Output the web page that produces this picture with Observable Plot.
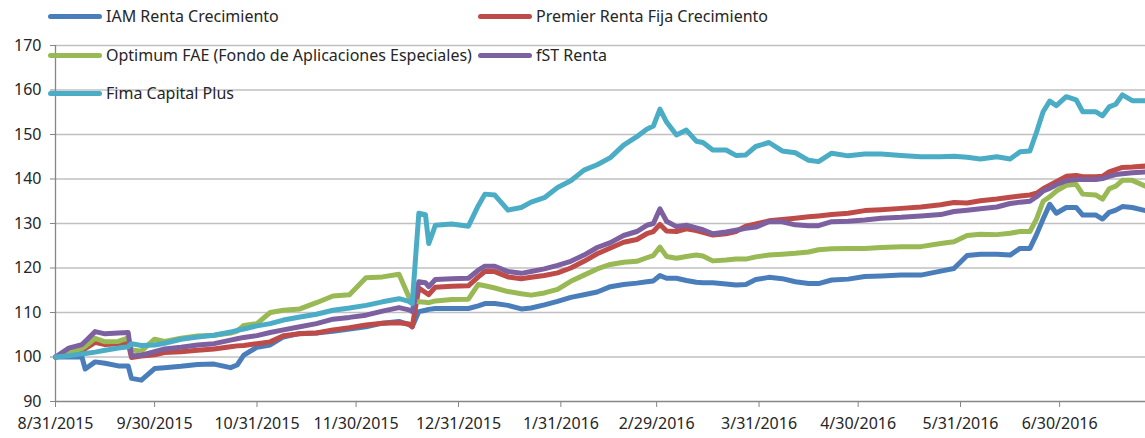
<!DOCTYPE html>
<html><head><meta charset="utf-8">
<script src="https://cdn.jsdelivr.net/npm/d3@7"></script>
<script src="https://cdn.jsdelivr.net/npm/@observablehq/plot@0.6"></script>
<style>
html,body{margin:0;padding:0;background:#fff;}
#wrap{position:relative;width:1145px;height:438px;font-family:"Noto Sans",sans-serif;}
.leg{position:absolute;display:flex;align-items:center;font-size:16px;color:#262626;white-space:nowrap;height:20px;}
.sw{width:54px;height:5px;border-radius:3px;margin-right:4px;flex:none;}
</style></head><body>
<div id="wrap"><div id="chart"></div></div>
<script>
// ---- data ----
const dates = [
"2015-08-31","2015-09-04","2015-09-08","2015-09-09","2015-09-12","2015-09-15","2015-09-19","2015-09-22","2015-09-23","2015-09-26",
"2015-09-30","2015-10-03","2015-10-08","2015-10-13","2015-10-18","2015-10-23","2015-10-25","2015-10-27","2015-10-31","2015-11-04",
"2015-11-08","2015-11-13","2015-11-18","2015-11-23","2015-11-28","2015-12-03","2015-12-08","2015-12-13","2015-12-16","2015-12-17",
"2015-12-19","2015-12-21","2015-12-22","2015-12-24","2015-12-29","2016-01-03","2016-01-06","2016-01-08","2016-01-11","2016-01-15",
"2016-01-19","2016-01-22","2016-01-26","2016-01-30","2016-02-03","2016-02-07","2016-02-11","2016-02-15","2016-02-19","2016-02-23",
"2016-02-26","2016-02-28","2016-03-01","2016-03-03","2016-03-06","2016-03-09","2016-03-12","2016-03-14","2016-03-17","2016-03-21",
"2016-03-24","2016-03-27","2016-03-30","2016-04-03","2016-04-07","2016-04-11","2016-04-15","2016-04-18","2016-04-22","2016-04-27",
"2016-05-02","2016-05-07","2016-05-13","2016-05-19","2016-05-25","2016-05-29","2016-06-02","2016-06-06","2016-06-11","2016-06-15",
"2016-06-18","2016-06-21","2016-06-23","2016-06-25","2016-06-27","2016-06-29","2016-07-02","2016-07-05","2016-07-07","2016-07-11",
"2016-07-13","2016-07-15","2016-07-17","2016-07-19","2016-07-22","2016-07-26"];

const iamRentaCrecimiento = [
100,100,100,97.3,98.9,98.6,98.0,98.0,95.2,94.8,
97.4,97.6,97.9,98.3,98.4,97.6,98.2,100.4,102.2,102.7,
104.5,105.3,105.4,105.8,106.3,106.8,107.6,108.0,107.3,106.8,
110.2,110.5,110.7,110.9,110.9,110.9,111.5,112.0,112.0,111.6,
110.8,111.0,111.7,112.5,113.4,114.0,114.6,115.8,116.3,116.6,
116.9,117.1,118.3,117.7,117.7,117.2,116.8,116.7,116.7,116.4,
116.2,116.3,117.4,117.9,117.6,116.9,116.5,116.5,117.3,117.5,
118.1,118.2,118.4,118.4,119.3,119.9,122.8,123.1,123.1,122.9,
124.4,124.4,127.5,131.0,134.3,132.3,133.6,133.6,131.9,131.9,
131.0,132.5,133.0,133.8,133.6,132.9];

const premierRentaFija = [
100,100.6,101.5,101.9,103.3,102.8,103.0,103.1,99.9,100.2,
100.5,101.0,101.2,101.5,101.8,102.3,102.5,102.6,103.0,103.4,
104.8,105.2,105.4,106.1,106.6,107.2,107.6,107.7,107.4,106.8,
115.5,114.5,114.0,115.7,115.9,116.0,118.0,119.2,119.2,118.0,
117.6,117.9,118.3,118.9,120.0,121.5,123.2,124.5,125.8,126.4,
127.7,128.2,129.8,128.3,128.2,128.8,128.4,128.0,127.4,127.7,
128.2,129.4,129.9,130.6,130.9,131.2,131.5,131.7,132.0,132.3,
132.9,133.1,133.4,133.7,134.2,134.7,134.6,135.1,135.5,135.9,
136.2,136.4,136.8,137.8,138.6,139.4,140.6,140.8,140.5,140.5,
140.6,141.6,142.1,142.6,142.7,142.9];

const optimumFAE = [
100,101.0,101.9,102.4,104.2,103.4,103.5,104.3,101.6,101.3,
104.0,103.5,104.2,104.7,104.9,105.4,105.8,107.1,107.5,110.0,
110.5,110.8,112.2,113.7,114.0,117.8,118.0,118.6,113.5,112.8,
112.4,112.3,112.2,112.6,112.9,113.0,116.3,116.0,115.5,114.7,
114.2,113.9,114.4,115.2,117.0,118.4,119.8,120.8,121.3,121.5,
122.3,122.8,124.7,122.6,122.2,122.6,122.9,122.7,121.6,121.8,
122.0,122.0,122.5,122.9,123.1,123.3,123.6,124.1,124.3,124.4,
124.4,124.6,124.8,124.8,125.5,125.9,127.3,127.6,127.5,127.8,
128.2,128.2,131.0,135.0,136.0,137.3,138.6,138.8,136.6,136.4,
135.5,137.8,138.4,139.7,139.7,138.4];

const fstRenta = [
100,102.0,102.8,103.5,105.7,105.2,105.4,105.5,100.2,100.4,
101.2,101.8,102.2,102.7,103.0,103.8,104.1,104.4,104.8,105.5,
106.1,106.8,107.5,108.5,108.9,109.4,110.3,111.1,110.6,110.2,
116.9,116.7,115.8,117.4,117.6,117.7,119.5,120.4,120.4,119.2,
118.8,119.2,119.8,120.6,121.5,122.9,124.6,125.7,127.3,128.2,
129.6,130.0,133.3,130.5,129.3,129.6,129.0,128.6,127.7,128.1,
128.5,128.9,129.2,130.4,130.4,129.7,129.5,129.5,130.4,130.5,
130.8,131.2,131.4,131.7,132.0,132.7,133.0,133.3,133.7,134.5,
134.8,135.0,136.0,137.3,137.9,138.7,139.6,139.9,139.9,139.9,
140.1,140.6,141.0,141.2,141.4,141.6];

const fimaCapitalPlus = [
100,100.3,100.7,100.8,101.1,101.5,102.0,102.3,103.0,102.6,
102.7,103.1,104.0,104.5,104.9,105.6,106.0,106.3,107.0,107.5,
108.3,109.0,109.6,110.5,111.0,111.6,112.4,113.1,112.5,112.0,
132.3,132.0,125.5,129.6,129.9,129.4,134.0,136.6,136.4,133.0,
133.6,134.8,135.8,138.1,139.6,142.0,143.2,144.8,147.6,149.5,
151.2,151.9,155.7,152.8,149.9,151.0,148.5,148.2,146.5,146.5,
145.3,145.4,147.3,148.2,146.3,145.9,144.2,143.9,145.8,145.2,
145.6,145.6,145.3,145.0,145.0,145.1,144.9,144.5,145.0,144.5,
146.1,146.3,150.5,155.1,157.5,156.5,158.5,157.8,155.1,155.1,
154.2,156.2,156.8,158.9,157.6,157.6];

const seriesNames = ["IAM Renta Crecimiento","Premier Renta Fija Crecimiento","Optimum FAE (Fondo de Aplicaciones Especiales)","fST Renta","Fima Capital Plus"];
const seriesValues = [iamRentaCrecimiento, premierRentaFija, optimumFAE, fstRenta, fimaCapitalPlus];
const seriesColors = ["#4a7ebb","#be4b48","#98b954","#7d60a0","#4bacc6"];
const xTickDates = ["2015-08-31","2015-09-30","2015-10-31","2015-11-30","2015-12-31","2016-01-31","2016-02-29","2016-03-31","2016-04-30","2016-05-31","2016-06-30"];
const yTicks = [90,100,110,120,130,140,150,160,170];

// ---- chart ----
const parse = s => new Date(s + "T00:00:00Z");
const fmt = d => `${d.getUTCMonth()+1}/${d.getUTCDate()}/${d.getUTCFullYear()}`;
const series = seriesNames.map((name, i) => ({
  name, color: seriesColors[i],
  rows: dates.map((d, j) => ({date: parse(d), value: seriesValues[i][j]}))
}));

const axisColor = "#868686";
const chart = Plot.plot({
  width: 1145, height: 438,
  marginLeft: 55, marginRight: 0, marginTop: 45, marginBottom: 37,
  style: {fontFamily: '"Noto Sans", sans-serif', fontSize: "16px", color: "#262626", background: "#fff", overflow: "visible"},
  x: {type: "utc", domain: [parse(dates[0]), parse(dates[dates.length - 1])], label: null},
  y: {domain: [90, 170], label: null},
  marks: [
    Plot.gridY(yTicks.filter(v => v > 90), {stroke: "#c0c0c0", strokeOpacity: 1, strokeWidth: 1.3}),
    Plot.ruleY([90], {stroke: axisColor, strokeWidth: 1.3}),
    Plot.ruleX([parse(dates[0])], {stroke: axisColor, strokeWidth: 1.3}),
    Plot.axisX(xTickDates.map(parse), {tickSize: 6, tickPadding: 10, stroke: axisColor, tickFormat: fmt, fill: "#262626", label: null}),
    Plot.axisY(yTicks, {tickSize: 5, tickPadding: 9, stroke: axisColor, fill: "#262626", label: null}),
    ...series.map(s => Plot.lineY(s.rows, {x: "date", y: "value", stroke: s.color, strokeWidth: 5, strokeLinejoin: "round", strokeLinecap: "round"}))
  ]
});
const wrap = document.getElementById("wrap");
document.getElementById("chart").appendChild(chart);

// ---- legend (HTML overlay) ----
const legendPos = [[48, 6], [478, 6], [48, 45], [478, 45], [48, 83]];
seriesNames.forEach((name, i) => {
  const item = document.createElement("div");
  item.className = "leg";
  item.style.left = legendPos[i][0] + "px";
  item.style.top = legendPos[i][1] + "px";
  const sw = document.createElement("span");
  sw.className = "sw";
  sw.style.background = seriesColors[i];
  const t = document.createElement("span");
  t.textContent = name;
  item.appendChild(sw); item.appendChild(t);
  wrap.appendChild(item);
});
</script>
</body></html>
